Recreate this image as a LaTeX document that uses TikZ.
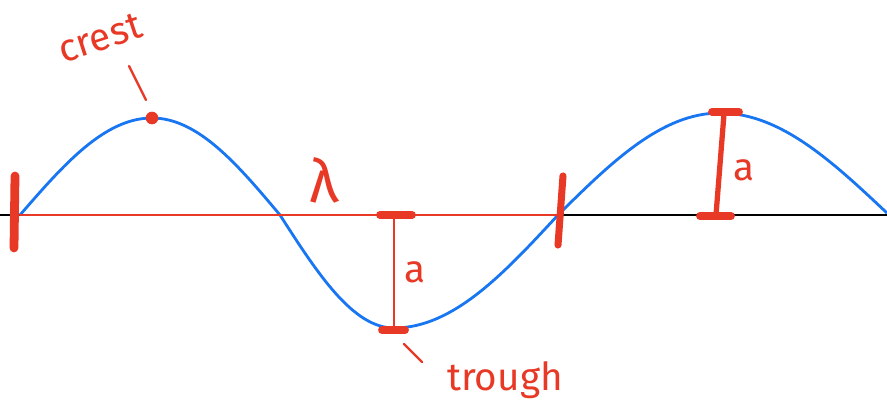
\documentclass[tikz,border=0pt]{standalone}
\usepackage{fontspec}
\setsansfont{Fira Sans}
\usetikzlibrary{positioning}
\definecolor{inkred}{RGB}{232,56,38}
\definecolor{waveblue}{RGB}{24,118,242}
\begin{document}
\begin{tikzpicture}[x=0.02cm,y=-0.02cm,
 axis/.style={draw=black,line width=1.6pt},
 wave/.style={draw=waveblue,line width=1.6pt},
 ink/.style={draw=inkred,line width=1.3pt,line cap=round},
 blob/.style={draw=inkred,line width=4.5pt,line cap=round},
 lbl/.style={text=inkred,font=\sffamily\fontsize{22}{24}\selectfont,inner sep=0pt}]
\useasboundingbox (0,0) rectangle (887,409);
\coordinate (start) at (20,215);
\coordinate (crest) at (152,118);
\coordinate (zero1) at (280,215);
\coordinate (trough) at (394,328);
\coordinate (zero2) at (558,215);
\coordinate (crest2) at (720,113);
\coordinate (stop) at (887,213);
\coordinate (mid) at (394,215);
\coordinate (base2) at (716,215);
\draw[axis] (0,215) -- (887,215);
\draw[wave] (start) sin (crest) cos (zero1) sin (trough) cos (zero2) sin (crest2) cos (stop);
% wavelength
\draw[ink,line width=1.6pt] (start) -- (zero2);
\draw[blob,line width=5pt] (15,176) -- (14,248);
\draw[blob,line width=4pt] (563,176) -- (558,245);
\node[lbl,font=\sffamily\fontsize{34}{36}\selectfont] (lam) at (324,180) {λ};
% crest and trough
\fill[inkred] (crest) circle[radius=3.6pt];
\node[lbl,rotate=18] (crestlbl) at (100,38) {crest};
\coordinate (ct) at (129,66);
\draw[ink] (ct) -- ++(17,34);
\draw[blob] (380,215) -- (412,215);
\draw[ink] (mid) -- (trough);
\draw[blob] (382,330) -- (405,330);
\node[lbl] (a1) at (415,272) {a};
\node[lbl] (troughlbl) at (505,380) {trough};
\coordinate (tt) at (404,344);
\draw[ink] (tt) -- ++(18,18);
% amplitude
\draw[blob] (712,112) -- (739,112);
\draw[blob] (700,216) -- (731,216);
\draw[ink,line width=3pt] (724,114) -- (base2);
\node[lbl] (a2) at (744,170) {a};
\end{tikzpicture}
\end{document}
